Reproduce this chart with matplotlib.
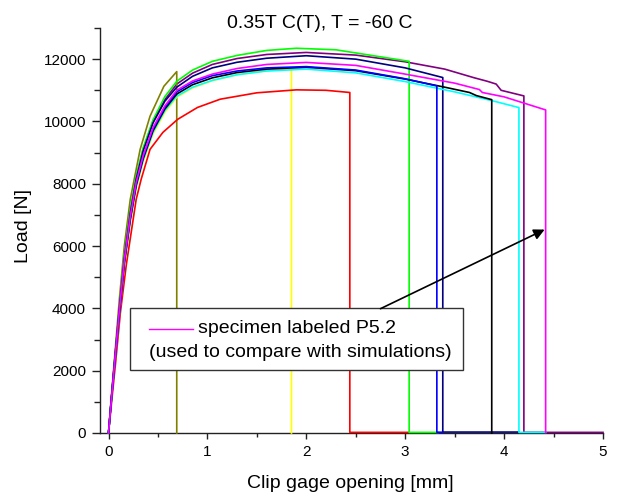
import matplotlib
matplotlib.use("Agg")
import matplotlib.pyplot as plt
from matplotlib.patches import Rectangle
from matplotlib.ticker import MultipleLocator

plt.rcParams['font.family'] = ['Liberation Sans', 'DejaVu Sans']

# load [N] vs clip gage opening [mm]
olive_x = [0, 0.03, 0.07, 0.11, 0.16, 0.22, 0.32, 0.42, 0.56, 0.69, 0.69]
olive_y = [0, 1200, 2750, 4300, 6000, 7500, 9105, 10170, 11130, 11600, 0]

yellow_x = [0, 0.03, 0.07, 0.11, 0.16, 0.22, 0.28, 0.35, 0.45, 0.57, 0.69, 0.85, 1.05, 1.3, 1.6, 1.85, 1.85]
yellow_y = [0, 1050, 2400, 3750, 5350, 6750, 7850, 8700, 9600, 10300, 10780, 11080, 11310, 11500, 11630, 11680, 0]

red_x = [0, 0.03, 0.07, 0.12, 0.18, 0.28, 0.33, 0.42, 0.55, 0.70, 0.9, 1.13, 1.5, 1.9, 2.2, 2.44, 2.44, 3.04]
red_y = [0, 950, 2200, 3860, 5400, 7500, 8140, 9105, 9650, 10070, 10450, 10715, 10920, 11015, 11000, 10930, 20, 20]

green_x = [0, 0.03, 0.07, 0.11, 0.16, 0.22, 0.28, 0.35, 0.45, 0.57, 0.69, 0.85, 1.05, 1.3, 1.6, 1.9, 2.3, 2.7,
           3.04, 3.04, 3.33]
green_y = [0, 1150, 2600, 4050, 5700, 7150, 8250, 9150, 10050, 10800, 11290, 11650, 11930, 12120, 12280, 12350,
           12300, 12100, 11930, 20, 20]

purple_x = [0, 0.03, 0.07, 0.11, 0.16, 0.22, 0.28, 0.35, 0.45, 0.57, 0.69, 0.85, 1.05, 1.3, 1.6, 2.0, 2.5, 3.0,
            3.4, 3.7, 3.83, 3.92, 3.97, 4.2, 4.2, 5.0]
purple_y = [0, 1150, 2600, 4000, 5650, 7100, 8200, 9100, 10000, 10700, 11200, 11550, 11830, 12020, 12150, 12215,
            12130, 11915, 11680, 11400, 11290, 11200, 11000, 10820, 20, 20]

navy_x = [0, 0.03, 0.07, 0.11, 0.16, 0.22, 0.28, 0.35, 0.45, 0.57, 0.69, 0.85, 1.05, 1.3, 1.6, 2.0, 2.5, 3.0,
          3.38, 3.38, 4.15]
navy_y = [0, 1150, 2600, 4000, 5600, 7050, 8150, 9050, 9950, 10650, 11100, 11450, 11720, 11900, 12030, 12110,
          12000, 11720, 11410, 30, 30]

black_x = [0, 0.03, 0.07, 0.11, 0.16, 0.22, 0.28, 0.35, 0.45, 0.57, 0.69, 0.85, 1.05, 1.3, 1.6, 2.0, 2.5, 3.0,
           3.4, 3.65, 3.72, 3.875, 3.875]
black_y = [0, 1100, 2500, 3850, 5450, 6850, 7950, 8800, 9700, 10400, 10880, 11180, 11400, 11570, 11680, 11740,
           11630, 11360, 11100, 10930, 10830, 10700, 0]

blue_x = [0, 0.03, 0.07, 0.11, 0.16, 0.22, 0.28, 0.35, 0.45, 0.57, 0.69, 0.85, 1.05, 1.3, 1.6, 2.0, 2.5, 3.0,
          3.32, 3.32, 3.38]
blue_y = [0, 1100, 2500, 3900, 5500, 6900, 8000, 8850, 9750, 10450, 10950, 11250, 11470, 11620, 11720, 11760,
          11650, 11370, 11140, 25, 25]

cyan_x = [0, 0.03, 0.07, 0.11, 0.16, 0.22, 0.28, 0.35, 0.45, 0.57, 0.69, 0.85, 1.05, 1.3, 1.6, 2.0, 2.5, 3.0,
          3.5, 3.9, 4.15, 4.15, 4.42]
cyan_y = [0, 1050, 2450, 3800, 5400, 6800, 7900, 8750, 9650, 10350, 10810, 11100, 11320, 11500, 11620, 11680,
          11560, 11280, 10950, 10650, 10445, 20, 20]

magenta_x = [0, 0.03, 0.07, 0.11, 0.16, 0.22, 0.28, 0.35, 0.45, 0.57, 0.69, 0.85, 1.05, 1.3, 1.6, 2.0, 2.5, 3.0,
             3.5, 3.75, 3.78, 4.0, 4.42, 4.42]
magenta_y = [0, 1100, 2550, 3950, 5550, 6950, 8050, 8900, 9800, 10500, 11000, 11300, 11520, 11700, 11830, 11895,
             11800, 11520, 11230, 11025, 10930, 10790, 10370, 20]

curves = [
    (purple_x, purple_y, '#800080'),
    (olive_x, olive_y, '#808000'),
    (yellow_x, yellow_y, '#ffff00'),
    (red_x, red_y, '#ff0000'),
    (green_x, green_y, '#00ff00'),
    (navy_x, navy_y, '#000080'),
    (cyan_x, cyan_y, '#00ffff'),
    (black_x, black_y, '#000000'),
    (blue_x, blue_y, '#0000ff'),
    (magenta_x, magenta_y, '#ff00ff'),
]

fig = plt.figure(figsize=(6.21, 4.92), dpi=100)
ax = fig.add_axes([100 / 621, 1 - 433 / 492, 503 / 621, 405 / 492])

for x, y, c in curves:
    ax.plot(x, y, color=c, lw=1.2, clip_on=False, zorder=3)

ax.set_xlim(-0.086, 5.0)
ax.set_ylim(0, 13000)
ax.xaxis.set_major_locator(MultipleLocator(1))
ax.xaxis.set_minor_locator(MultipleLocator(0.5))
ax.yaxis.set_major_locator(MultipleLocator(2000))
ax.yaxis.set_minor_locator(MultipleLocator(1000))

for s in ['top', 'right']:
    ax.spines[s].set_visible(False)
for s in ['left', 'bottom']:
    ax.spines[s].set_linewidth(1.0)
    ax.spines[s].set_color('#222222')

ax.tick_params(axis='x', which='major', length=4.3, width=1.0, pad=4.5, labelsize=11, color='#222222')
ax.tick_params(axis='x', which='minor', length=2.9, width=1.0, color='#222222')
ax.tick_params(axis='y', which='major', length=6, width=1.0, pad=4, labelsize=11, color='#222222')
ax.tick_params(axis='y', which='minor', length=4, width=1.0, color='#222222')

# legend box drawn by hand
ax.add_patch(Rectangle((0.22, 2030), 3.36, 1990, facecolor='white', edgecolor='#333333',
                       lw=1.0, zorder=5))
ax.plot([0.41, 0.85], [3346, 3346], color='#ff00ff', lw=1.0, zorder=6)
ax.text(0.90, 3346, 'specimen labeled P5.2', fontsize=14, va='center', ha='left', zorder=6)
ax.text(0.41, 2574, '(used to compare with simulations)', fontsize=14, va='center', ha='left', zorder=6)

ax.annotate('', xy=(4.41, 6530), xytext=(2.75, 3990),
            arrowprops=dict(arrowstyle='-|>', color='black', lw=1.2, mutation_scale=16, shrinkA=0, shrinkB=0),
            zorder=6)

fig.text(320 / 621, 1 - 28 / 492, '0.35T C(T), T = -60 C', fontsize=14, ha='center', va='baseline')
fig.text(350 / 621, 1 - 488 / 492, 'Clip gage opening [mm]', fontsize=14, ha='center', va='baseline')
fig.text(24 / 621, 1 - 226 / 492, 'Load [N]', fontsize=14, ha='center', va='center', rotation=90)

fig.savefig('out.png', dpi=100)
